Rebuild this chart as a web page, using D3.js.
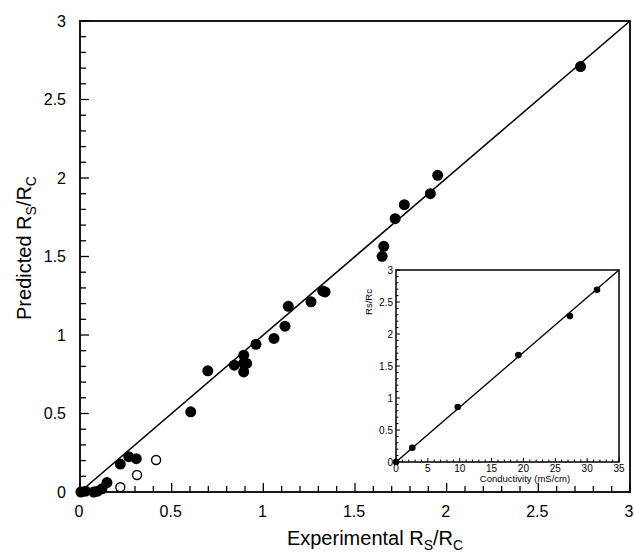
<!doctype html>
<html lang="en">
<head>
  <meta charset="utf-8">
  <script src="https://d3js.org/d3.v7.min.js"></script>
  <style>
    body { margin: 0; background: #fff; }
    text { font-family: "Liberation Sans", Arial, sans-serif; fill: #000; }
  </style>
</head>
<body>
  <script>
    // main plot: experimental vs predicted Rs/Rc
    var expFilled  = [0.005, 0.03, 0.075, 0.095, 0.12, 0.147, 0.22, 0.266, 0.307,
                      0.604, 0.697, 0.842, 0.893, 0.909, 0.893, 0.893, 0.96, 1.058,
                      1.118, 1.136, 1.26, 1.324, 1.337,
                      1.648, 1.657, 1.719, 1.769, 1.911, 1.951, 2.73];
    var predFilled = [0.0, 0.005, 0.0, 0.005, 0.02, 0.06, 0.178, 0.225, 0.212,
                      0.511, 0.772, 0.808, 0.765, 0.819, 0.871, 0.82, 0.941, 0.978,
                      1.056, 1.183, 1.211, 1.281, 1.274,
                      1.501, 1.565, 1.741, 1.83, 1.9, 2.017, 2.71];
    var expOpen  = [0.22, 0.311, 0.415];
    var predOpen = [0.03, 0.108, 0.204];
    var mainTicks = [0, 0.5, 1, 1.5, 2, 2.5, 3];

    // inset: conductivity vs Rs/Rc
    var conductivity = [0, 2.56, 9.69, 19.2, 27.3, 31.55];
    var insetRatio   = [0, 0.223, 0.86, 1.67, 2.28, 2.69];
    var insetXTicks = [0, 5, 10, 15, 20, 25, 30, 35];
    var insetYTicks = [0, 0.5, 1, 1.5, 2, 2.5, 3];

    var width = 634, height = 552;

    var svg = d3.select("body").append("svg")
        .attr("width", width)
        .attr("height", height);

    var x = d3.scaleLinear().domain([0, 3]).range([80, 630]);
    var y = d3.scaleLinear().domain([0, 3]).range([492, 21]);

    var fmt = function(d) { return d3.format("")(d); };
    var isHalf = function(d) { return Math.abs(d * 2 - Math.round(d * 2)) < 1e-6; };

    // minor ticks (inward)
    var minor = d3.range(0, 3.0001, 0.1);
    svg.append("g").selectAll("line")
        .data(minor)
      .enter().append("line")
        .attr("x1", function(d) { return x(d); })
        .attr("x2", function(d) { return x(d); })
        .attr("y1", y(0))
        .attr("y2", function(d) { return y(0) - (isHalf(d) ? 9 : 6); })
        .attr("stroke", "#000").attr("stroke-width", 1.3);
    svg.append("g").selectAll("line")
        .data(minor)
      .enter().append("line")
        .attr("y1", function(d) { return y(d); })
        .attr("y2", function(d) { return y(d); })
        .attr("x1", x(0))
        .attr("x2", function(d) { return x(0) + (isHalf(d) ? 9 : 6); })
        .attr("stroke", "#000").attr("stroke-width", 1.3);

    // tick labels
    svg.append("g").selectAll("text")
        .data(mainTicks)
      .enter().append("text")
        .attr("x", function(d) { return x(d) - 1; })
        .attr("y", 517)
        .attr("text-anchor", "middle")
        .style("font-size", "16px")
        .text(fmt);
    svg.append("g").selectAll("text")
        .data(mainTicks)
      .enter().append("text")
        .attr("x", 66)
        .attr("y", function(d) { return y(d); })
        .attr("dy", "0.35em")
        .attr("text-anchor", "end")
        .style("font-size", "16px")
        .text(fmt);

    // frame
    svg.append("rect")
        .attr("x", x(0)).attr("y", y(3))
        .attr("width", x(3) - x(0)).attr("height", y(0) - y(3))
        .attr("fill", "none").attr("stroke", "#000").attr("stroke-width", 1.8);

    // y = x line
    svg.append("line")
        .attr("x1", x(0)).attr("y1", y(0))
        .attr("x2", x(3)).attr("y2", y(3))
        .attr("stroke", "#000").attr("stroke-width", 1.6);

    var filled = expFilled.map(function(d, i) { return [d, predFilled[i]]; });
    var open = expOpen.map(function(d, i) { return [d, predOpen[i]]; });

    svg.append("g").selectAll("circle")
        .data(filled)
      .enter().append("circle")
        .attr("cx", function(d) { return x(d[0]); })
        .attr("cy", function(d) { return y(d[1]); })
        .attr("r", 5.5)
        .attr("fill", "#000");

    svg.append("g").selectAll("circle")
        .data(open)
      .enter().append("circle")
        .attr("cx", function(d) { return x(d[0]); })
        .attr("cy", function(d) { return y(d[1]); })
        .attr("r", 4.5)
        .attr("fill", "#fff")
        .attr("stroke", "#000").attr("stroke-width", 1.4);

    // axis titles
    var xt = svg.append("text")
        .attr("x", 375).attr("y", 545)
        .attr("text-anchor", "middle")
        .style("font-size", "20px");
    xt.append("tspan").text("Experimental R");
    xt.append("tspan").attr("dy", 5).style("font-size", "14px").text("S");
    xt.append("tspan").attr("dy", -5).text("/R");
    xt.append("tspan").attr("dy", 5).style("font-size", "14px").text("C");

    var yt = svg.append("text")
        .attr("transform", "translate(31,248) rotate(-90)")
        .attr("text-anchor", "middle")
        .style("font-size", "20px");
    yt.append("tspan").text("Predicted R");
    yt.append("tspan").attr("dy", 5).style("font-size", "14px").text("S");
    yt.append("tspan").attr("dy", -5).text("/R");
    yt.append("tspan").attr("dy", 5).style("font-size", "14px").text("C");

    // ---- inset ----
    var ix = d3.scaleLinear().domain([0, 35]).range([396, 619]);
    var iy = d3.scaleLinear().domain([0, 3]).range([462, 270]);

    var inset = svg.append("g");
    inset.append("rect")
        .attr("x", ix(0)).attr("y", iy(3))
        .attr("width", ix(35) - ix(0)).attr("height", iy(0) - iy(3))
        .attr("fill", "#fff");

    inset.append("g").selectAll("line")
        .data(d3.range(0, 35.001, 1))
      .enter().append("line")
        .attr("x1", function(d) { return ix(d); })
        .attr("x2", function(d) { return ix(d); })
        .attr("y1", iy(0))
        .attr("y2", function(d) { return iy(0) - (d % 5 === 0 ? 4 : 2.5); })
        .attr("stroke", "#000").attr("stroke-width", 1);
    inset.append("g").selectAll("line")
        .data(d3.range(0, 3.0001, 0.1))
      .enter().append("line")
        .attr("y1", function(d) { return iy(d); })
        .attr("y2", function(d) { return iy(d); })
        .attr("x1", ix(0))
        .attr("x2", function(d) { return ix(0) + (isHalf(d) ? 4 : 2.5); })
        .attr("stroke", "#000").attr("stroke-width", 1);

    inset.append("rect")
        .attr("x", ix(0)).attr("y", iy(3))
        .attr("width", ix(35) - ix(0)).attr("height", iy(0) - iy(3))
        .attr("fill", "none").attr("stroke", "#000").attr("stroke-width", 1.5);

    inset.append("line")
        .attr("x1", ix(0)).attr("y1", iy(0))
        .attr("x2", ix(35)).attr("y2", iy(3))
        .attr("stroke", "#000").attr("stroke-width", 1.4);

    inset.append("g").selectAll("circle")
        .data(conductivity.map(function(d, i) { return [d, insetRatio[i]]; }))
      .enter().append("circle")
        .attr("cx", function(d) { return ix(d[0]); })
        .attr("cy", function(d) { return iy(d[1]); })
        .attr("r", 3.3)
        .attr("fill", "#000");

    inset.append("g").selectAll("text")
        .data(insetXTicks)
      .enter().append("text")
        .attr("x", function(d) { return ix(d); })
        .attr("y", 472)
        .attr("text-anchor", "middle")
        .style("font-size", "10px")
        .text(fmt);
    inset.append("g").selectAll("text")
        .data(insetYTicks)
      .enter().append("text")
        .attr("x", 393)
        .attr("y", function(d) { return iy(d); })
        .attr("dy", "0.35em")
        .attr("text-anchor", "end")
        .style("font-size", "10px")
        .text(fmt);

    inset.append("text")
        .attr("x", 525).attr("y", 482)
        .attr("text-anchor", "middle")
        .style("font-size", "9.5px")
        .text("Conductivity (mS/cm)");
    inset.append("text")
        .attr("transform", "translate(372,302) rotate(-90)")
        .attr("text-anchor", "middle")
        .style("font-size", "9.5px")
        .text("Rs/Rc");
  </script>
</body>
</html>
